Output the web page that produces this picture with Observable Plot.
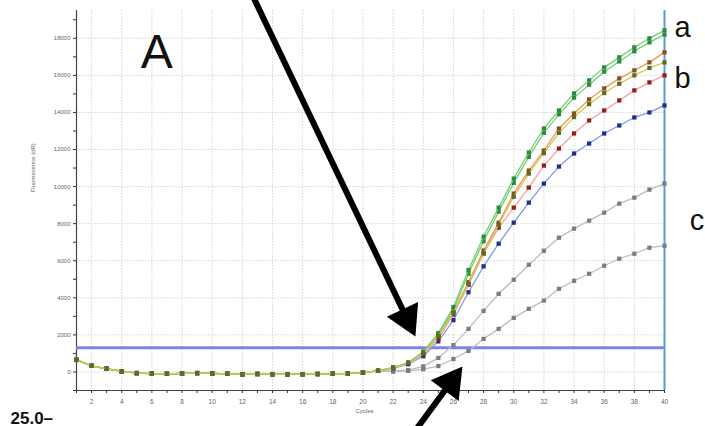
<!DOCTYPE html>
<html>
<head>
<meta charset="utf-8">
<script src="https://cdn.jsdelivr.net/npm/d3@7"></script>
<script src="https://cdn.jsdelivr.net/npm/@observablehq/plot@0.6"></script>
<style>
html, body { margin: 0; padding: 0; background: #ffffff; }
#chart svg { display: block; }
</style>
</head>
<body>
<div id="chart"></div>
<script>
// ---------------- data ----------------
const cycles = [1,2,3,4,5,6,7,8,9,10,11,12,13,14,15,16,17,18,19,20,21,22,23,24,25,26,27,28,29,30,31,32,33,34,35,36,37,38,39,40];
// shared baseline, cycles 1..21
const baseline = [650, 330, 170, 40, -60, -90, -100, -80, -60, -80, -100, -120, -110, -120, -130, -120, -110, -100, -80, -40, 60];
// series values, cycles 22..40
const tailC2    = [20, 60, 150, 320, 700, 1135, 1784, 2324, 2919, 3405, 3850, 4486, 4919, 5297, 5730, 6108, 6378, 6703, 6810];
const tailC1    = [40, 100, 300, 757, 1450, 2324, 3297, 4216, 4973, 5784, 6540, 7243, 7730, 8162, 8595, 9081, 9405, 9838, 10162];
const tailBlue  = [200, 420, 850, 1650, 2800, 4300, 5700, 6919, 8054, 9135, 10162, 11081, 11784, 12324, 12865, 13297, 13730, 14000, 14378];
const tailRed   = [220, 460, 950, 1800, 3100, 4700, 6380, 7784, 8865, 9946, 11135, 12054, 12865, 13568, 14108, 14649, 15189, 15622, 16000];
const tailBrown = [230, 490, 1000, 1950, 3250, 4850, 6550, 8054, 9622, 10865, 11946, 13135, 13946, 14703, 15297, 15838, 16270, 16703, 17243];
const tailOlive = [230, 490, 1000, 1950, 3200, 4750, 6400, 7950, 9450, 10700, 11800, 12900, 13750, 14450, 15050, 15550, 16000, 16400, 16700];
const tailA2    = [240, 500, 1050, 2000, 3350, 5300, 7050, 8650, 10200, 11600, 12900, 13900, 14800, 15500, 16200, 16750, 17300, 17780, 18200];
const tailA1    = [240, 510, 1100, 2100, 3500, 5500, 7300, 8865, 10432, 11838, 13135, 14108, 15027, 15730, 16432, 16973, 17514, 18000, 18430];
const threshold = [1300];
const endCycle = [40];

const xTickLabels = [2,4,6,8,10,12,14,16,18,20,22,24,26,28,30,32,34,36,38,40];
const yTickLabels = [0,2000,4000,6000,8000,10000,12000,14000,16000,18000];
const yMinorTicks = [-1000,0,1000,2000,3000,4000,5000,6000,7000,8000,9000,10000,11000,12000,13000,14000,15000,16000,17000,18000,19000];

const curveLabels = [
  {text: "a", cycle: 40.67, value: 18045},
  {text: "b", cycle: 40.67, value: 15294},
  {text: "c", cycle: 41.67, value: 7633}
];
const panelLabel = [{text: "A", cycle: 6.32, value: 16373}];
const arrows = [
  {x1: 12.74, y1: 20203, x2: 23.48, y2: 1915},
  {x1: 23.48, y1: -3156, x2: 26.60, y2: 297}
];

// ---------------- styles ----------------
const order = ["c2", "c1", "blue", "red", "brown", "a2", "a1", "olive"];
const tails = {c2: tailC2, c1: tailC1, blue: tailBlue, red: tailRed, brown: tailBrown, olive: tailOlive, a2: tailA2, a1: tailA1};
const lineColor = {c2: "#bdbdbd", c1: "#bdbdbd", blue: "#7f9be3", red: "#f4a0a0", brown: "#e89a55", olive: "#cfc84e", a2: "#72cf72", a1: "#72cf72"};
const markColor = {c2: "#7d7d7d", c1: "#7d7d7d", blue: "#1d2f8f", red: "#961c1c", brown: "#8a4f1e", olive: "#5f6a22", a2: "#2f8a3f", a1: "#2f8a3f"};

const rows = order.map(s => cycles.map((c, i) => ({
  series: s, cycle: c,
  value: i < baseline.length ? baseline[i] : tails[s][i - baseline.length]
})));

// layout
const W = 705, H = 426, mL = 76, mR = 41, mT = 10, mB = 36;
const xDomain = [1, 40], yDomain = [-1000, 19500];
const kx = (W - mL - mR) / (xDomain[1] - xDomain[0]);   // px per cycle
const ky = (H - mT - mB) / (yDomain[1] - yDomain[0]);   // px per unit

// arrow geometry (in pixels -> data)
const headBack = 20, shaftBack = 14;
const arrowParts = arrows.map(a => {
  const px = (a.x2 - a.x1) * kx, py = -(a.y2 - a.y1) * ky;
  const len = Math.hypot(px, py);
  const ux = px / len, uy = py / len;
  const angle = Math.atan2(ux, -uy) * 180 / Math.PI;
  return {
    shaft: {x1: a.x1, y1: a.y1, x2: a.x2 - ux * shaftBack / kx, y2: a.y2 + uy * shaftBack / ky},
    head: {x: a.x2 - ux * headBack / kx, y: a.y2 + uy * headBack / ky, angle}
  };
});

const seriesMarks = rows.flatMap((data, k) => {
  const s = order[k];
  return [
    Plot.line(data, {x: "cycle", y: "value", stroke: lineColor[s], strokeWidth: 1.3}),
    Plot.dot(data, {x: "cycle", y: "value", symbol: "square", r: 2.4, fill: markColor[s], stroke: "none"})
  ];
});

const chart = Plot.plot({
  width: W, height: H,
  marginLeft: mL, marginRight: mR, marginTop: mT, marginBottom: mB,
  x: {domain: xDomain},
  y: {domain: yDomain},
  style: {background: "#ffffff", fontFamily: "'Liberation Sans', Arial, sans-serif", overflow: "visible"},
  marks: [
    Plot.gridX(xTickLabels, {stroke: "#c9c9c9", strokeOpacity: 1, strokeWidth: 0.8, strokeDasharray: "1.5,1.5"}),
    Plot.gridY(yTickLabels, {stroke: "#c9c9c9", strokeOpacity: 1, strokeWidth: 0.8, strokeDasharray: "1.5,1.5"}),
    Plot.axisX(cycles, {tickSize: 3, stroke: "#333", text: null}),
    Plot.axisX(xTickLabels, {tickSize: 0, tickPadding: 9, fontSize: 6.5, fill: "#666", tickFormat: d => String(d), label: null}),
    Plot.axisY(yMinorTicks, {tickSize: 3, stroke: "#333", text: null}),
    Plot.axisY(yTickLabels, {tickSize: 0, tickPadding: 6, fontSize: 6, fill: "#666", tickFormat: d => String(d), label: null}),
    Plot.ruleY([yDomain[0]], {stroke: "#444", strokeWidth: 1.2}),
    Plot.ruleX([xDomain[0]], {stroke: "#444", strokeWidth: 1.2}),
    Plot.text(["Cycles"], {frameAnchor: "bottom", dy: 22, dx: -6, fontSize: 6, fill: "#666"}),
    Plot.text(["Fluorescence (dR)"], {frameAnchor: "left", dx: -43, dy: -8, rotate: -90, fontSize: 6, fill: "#666"}),
    Plot.ruleY(threshold, {stroke: "#7c84ec", strokeWidth: 3}),
    Plot.ruleX(endCycle, {stroke: "#5b9ad8", strokeWidth: 2}),
    ...seriesMarks,
    Plot.text(panelLabel, {x: "cycle", y: "value", text: "text", fontSize: 48, fill: "#111", textAnchor: "middle", lineAnchor: "bottom"}),
    Plot.text(curveLabels, {x: "cycle", y: "value", text: "text", fontSize: 29, fill: "#111", textAnchor: "start", lineAnchor: "bottom"}),
    Plot.link(arrowParts.map(d => d.shaft), {x1: "x1", y1: "y1", x2: "x2", y2: "y2", stroke: "#000", strokeWidth: 6, curve: "linear"}),
    Plot.dot([arrowParts[0].head], {x: "x", y: "y", symbol: "triangle", r: 12.86, fill: "#000", stroke: "none", rotate: arrowParts[0].head.angle}),
    Plot.dot([arrowParts[1].head], {x: "x", y: "y", symbol: "triangle", r: 12.86, fill: "#000", stroke: "none", rotate: arrowParts[1].head.angle}),
    Plot.text(["25.0–"], {frameAnchor: "bottom-left", dx: -66, dy: 33, fontSize: 17, fontWeight: "bold", fill: "#111", textAnchor: "start", lineAnchor: "bottom"})
  ]
});
document.getElementById("chart").appendChild(chart);
</script>
</body>
</html>
